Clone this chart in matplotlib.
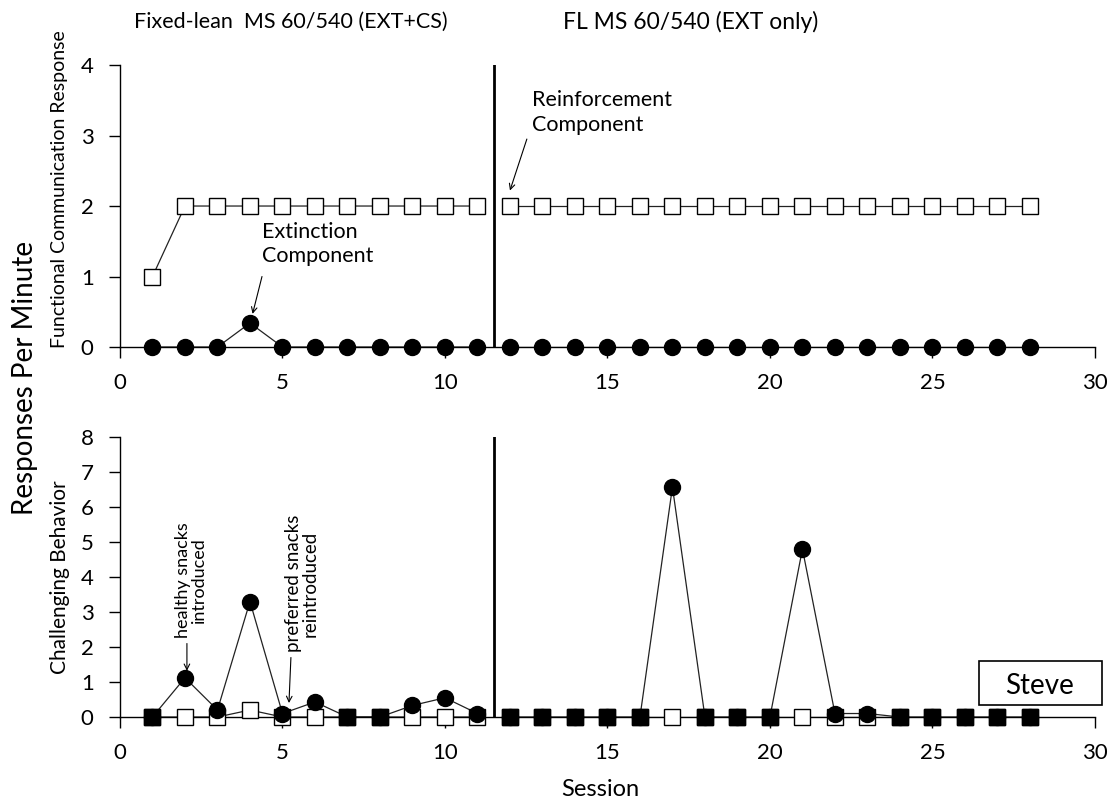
import numpy as np
import matplotlib
matplotlib.use("Agg")
import matplotlib.pyplot as plt
from matplotlib.patches import Rectangle

plt.rcParams['font.family'] = ['Lato', 'DejaVu Sans']

# sessions in each phase
sessions_a = [1, 2, 3, 4, 5, 6, 7, 8, 9, 10, 11]
sessions_b = [12, 13, 14, 15, 16, 17, 18, 19, 20, 21, 22, 23, 24, 25, 26, 27, 28]

# functional communication response (per minute)
fcr_rein_a = [1, 2, 2, 2, 2, 2, 2, 2, 2, 2, 2]
fcr_rein_b = [2] * 17
fcr_ext_a = [0, 0, 0, 0.34, 0, 0, 0, 0, 0, 0, 0]
fcr_ext_b = [0] * 17

# challenging behavior (per minute)
cb_rein_a = [0, 0, 0, 0.2, 0, 0, 0, 0, 0, 0, 0]
cb_rein_b = [0] * 17
cb_ext_a = [0, 1.12, 0.2, 3.3, 0.1, 0.43, 0, 0, 0.33, 0.55, 0.1]
cb_ext_b = [0, 0, 0, 0, 0, 6.57, 0, 0, 0, 4.8, 0.1, 0.1, 0, 0, 0, 0, 0]

phase_change = 11.5
phase_titles = ["Fixed-lean  MS 60/540 (EXT+CS)", "FL MS 60/540 (EXT only)"]

fig = plt.figure(figsize=(11.15, 8.07), dpi=100)
ax1 = fig.add_axes([0.1076, 0.570, 0.8744, 0.3494])
ax2 = fig.add_axes([0.1076, 0.1115, 0.8744, 0.347])

line_kw = dict(color='#222222', lw=0.9, zorder=2)
sq_kw = dict(marker='s', ms=11, mfc='white', mec='black', mew=1.0)
ci_kw = dict(marker='o', ms=11.5, mfc='black', mec='black')
arrow_kw = dict(arrowstyle='->', color='black', lw=0.8, shrinkA=0, shrinkB=0)


def style_axis(ax, ymax):
    ax.set_xlim(0, 30)
    ax.set_ylim(0, ymax)
    ax.set_xticks([0, 5, 10, 15, 20, 25, 30])
    ax.set_yticks(range(0, ymax + 1))
    ax.spines['top'].set_visible(False)
    ax.spines['right'].set_visible(False)
    ax.tick_params(direction='out', length=8, width=1, labelsize=16, pad=11)
    for s in ax.spines.values():
        s.set_linewidth(1.0)
    ax.axvline(phase_change, color='black', lw=2, zorder=1)


# upper panel
for xs, ys in [(sessions_a, fcr_rein_a), (sessions_b, fcr_rein_b)]:
    ax1.plot(xs, ys, **line_kw)
    ax1.plot(xs, ys, ls='none', zorder=3, clip_on=False, **sq_kw)
for xs, ys in [(sessions_a, fcr_ext_a), (sessions_b, fcr_ext_b)]:
    ax1.plot(xs, ys, **line_kw)
    ax1.plot(xs, ys, ls='none', zorder=4, clip_on=False, **ci_kw)
style_axis(ax1, 4)
ax1.set_ylabel("Functional Communication Response", fontsize=14)
ax1.yaxis.label.set_va('center')
ax1.yaxis.set_label_coords(-0.062, 0.56)

ax1.text(4.37, 1.78, "Extinction\nComponent", fontsize=15.5, ha='left',
         va='top', linespacing=1.3)
ax1.annotate("", xy=(4.08, 0.47), xytext=(4.37, 1.0), arrowprops=arrow_kw)
ax1.text(12.68, 3.64, "Reinforcement\nComponent", fontsize=15.5, ha='left',
         va='top', linespacing=1.3)
ax1.annotate("", xy=(12.0, 2.22), xytext=(12.52, 2.95), arrowprops=arrow_kw)

# lower panel
for xs, ys in [(sessions_a, cb_rein_a), (sessions_b, cb_rein_b)]:
    ax2.plot(xs, ys, **line_kw)
for xs, ys in [(sessions_a, cb_ext_a), (sessions_b, cb_ext_b)]:
    ax2.plot(xs, ys, **line_kw)
for xs, rs, es in [(sessions_a, cb_rein_a, cb_ext_a), (sessions_b, cb_rein_b, cb_ext_b)]:
    ax2.plot(xs, rs, ls='none', zorder=3, clip_on=False, **sq_kw)
    ax2.plot(xs, es, ls='none', zorder=4, clip_on=False, **ci_kw)
    # where both series sit on zero the overlap reads as a solid square
    both = [(x, r) for x, r, e in zip(xs, rs, es) if r == 0 and e == 0]
    if both:
        bx, by = zip(*both)
        ax2.plot(bx, by, ls='none', marker='s', ms=11, mfc='black', mec='black',
                 zorder=5, clip_on=False)
style_axis(ax2, 8)
ax2.set_ylabel("Challenging Behavior", fontsize=15)
ax2.yaxis.label.set_va('center')
ax2.yaxis.set_label_coords(-0.062, 0.50)
ax2.set_xlabel("Session", fontsize=17)
ax2.xaxis.set_label_coords(0.493, -0.22)

ax2.text(2.2, 2.25, "healthy snacks\nintroduced", rotation=90, fontsize=13,
         ha='center', va='bottom', linespacing=1.0)
ax2.annotate("", xy=(2.06, 1.32), xytext=(2.06, 2.1), arrowprops=arrow_kw)
ax2.text(5.6, 1.85, "preferred snacks\nreintroduced", rotation=90, fontsize=13.5,
         ha='center', va='bottom', linespacing=1.0)
ax2.annotate("", xy=(5.2, 0.4), xytext=(5.26, 1.7), arrowprops=arrow_kw)

# participant name box
ax2.add_patch(Rectangle((26.43, 0.34), 3.79, 1.26, fc='white', ec='black',
                        lw=1.2, zorder=6, clip_on=False))
ax2.text(28.3, 0.9, "Steve", fontsize=20, ha='center', va='center', zorder=7)

# phase titles and overall label
fig.text(0.261, 0.973, phase_titles[0], fontsize=15.5, ha='center', va='center')
fig.text(0.619, 0.973, phase_titles[1], fontsize=16.5, ha='center', va='center')
fig.text(0.022, 0.532, "Responses Per Minute", fontsize=20, rotation=90,
         ha='center', va='center')

fig.savefig("out.png", dpi=100)
